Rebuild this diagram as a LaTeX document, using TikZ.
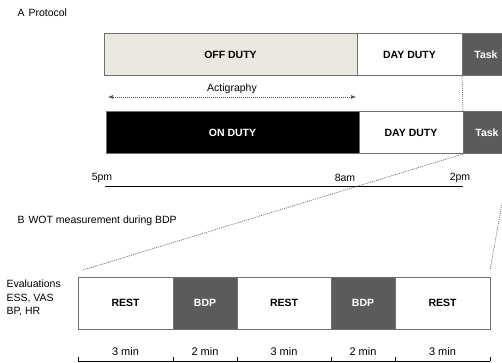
\documentclass[tikz,border=0pt]{standalone}
\usepackage{fontspec}
\setmainfont{Liberation Sans}
\usetikzlibrary{arrows.meta,positioning}
\definecolor{Edge}{HTML}{707070}
\definecolor{Dark}{HTML}{5B5B5B}
\definecolor{Beige}{HTML}{EBE8E0}
\definecolor{Dots}{HTML}{555555}

\begin{document}
\begin{tikzpicture}[x=1pt,y=-1pt,
    font=\fontsize{10.5}{13.5}\selectfont,
    seg/.style={draw=Edge,line width=1pt,fill=white,minimum height=42pt,
      inner sep=0pt,outer sep=0pt,font=\fontsize{10.5}{13.5}\selectfont\bfseries},
    darkseg/.style={seg,fill=Dark,text=white},
    lowseg/.style={minimum height=52pt},
    zoomline/.style={draw=Dots,line width=0.6pt,dash pattern=on 1pt off 1pt},
    actarrow/.style={zoomline,{Latex[length=5pt,width=4pt]}-{Latex[length=5pt,width=4pt]}},
    scaleline/.style={draw=black,line width=0.8pt}]
    \useasboundingbox (0,0) rectangle (502,363);
    % panel A
    \node[anchor=west] (titleA) at (14,13) {A\hspace{4pt}Protocol};
    \node[seg,fill=Beige,minimum width=253pt,anchor=north west] (off) at (104,34) {OFF DUTY};
    \node[seg,minimum width=105pt,right=0pt of off] (day1) {DAY DUTY};
    \node[darkseg,minimum width=48pt,right=0pt of day1] (task1) {Task};
    \node[seg,fill=black,text=white,minimum width=253pt,anchor=north west] (on) at (106,112) {ON DUTY};
    \node[seg,minimum width=104pt,right=0pt of on] (day2) {DAY DUTY};
    \node[darkseg,minimum width=48pt,right=0pt of day2] (task2) {Task};
    \draw[zoomline] (task1.south west) -- (task2.north west);
    % actigraphy
    \coordinate (act0) at (108,97);
    \coordinate (act1) at (356,97);
    \draw[actarrow] (act0) -- node[above=0pt] (actlabel) {Actigraphy} (act1);
    % time line
    \node (pm5) at (102,178) {5pm};
    \node (am8) at (345,178) {8am};
    \node (pm2) at (460,178) {2pm};
    \coordinate (t0) at (105,186);
    \coordinate (t1) at (463,186);
    \draw[scaleline] (t0) -- (t1);
    % panel B
    \node[anchor=west] (titleB) at (14,221) {B\hspace{4pt}WOT measurement during BDP};
    \node[anchor=west,align=left] (evals) at (3,298) {Evaluations\\ESS, VAS\\BP, HR};
    \node[seg,lowseg,minimum width=95pt,anchor=north west] (rest1) at (78,277) {REST};
    \node[darkseg,lowseg,minimum width=64pt,right=0pt of rest1] (bdp1) {BDP};
    \node[seg,lowseg,minimum width=94pt,right=0pt of bdp1] (rest2) {REST};
    \node[darkseg,lowseg,minimum width=64pt,right=0pt of rest2] (bdp2) {BDP};
    \node[seg,lowseg,minimum width=95pt,right=0pt of bdp2] (rest3) {REST};
    \coordinate (zl) at (83,270);
    \coordinate (zr) at (490,270);
    \draw[zoomline] (task2.south west) -- (zl);
    \draw[zoomline] (task2.south east) -- (zr);
    % minutes
    \draw[line width=0.6pt] (78,361) -- (490,361);
    \foreach \x in {78,173,237,331,395,490}
      \draw[line width=0.6pt] (\x,361) -- (\x,357);
    \foreach \s/\t in {rest1/3 min,bdp1/2 min,rest2/3 min,bdp2/2 min,rest3/3 min}
      \node[font=\fontsize{11}{13}\selectfont] (min-\s) at (\s |- 0,352) {\t};
\end{tikzpicture}
\end{document}
